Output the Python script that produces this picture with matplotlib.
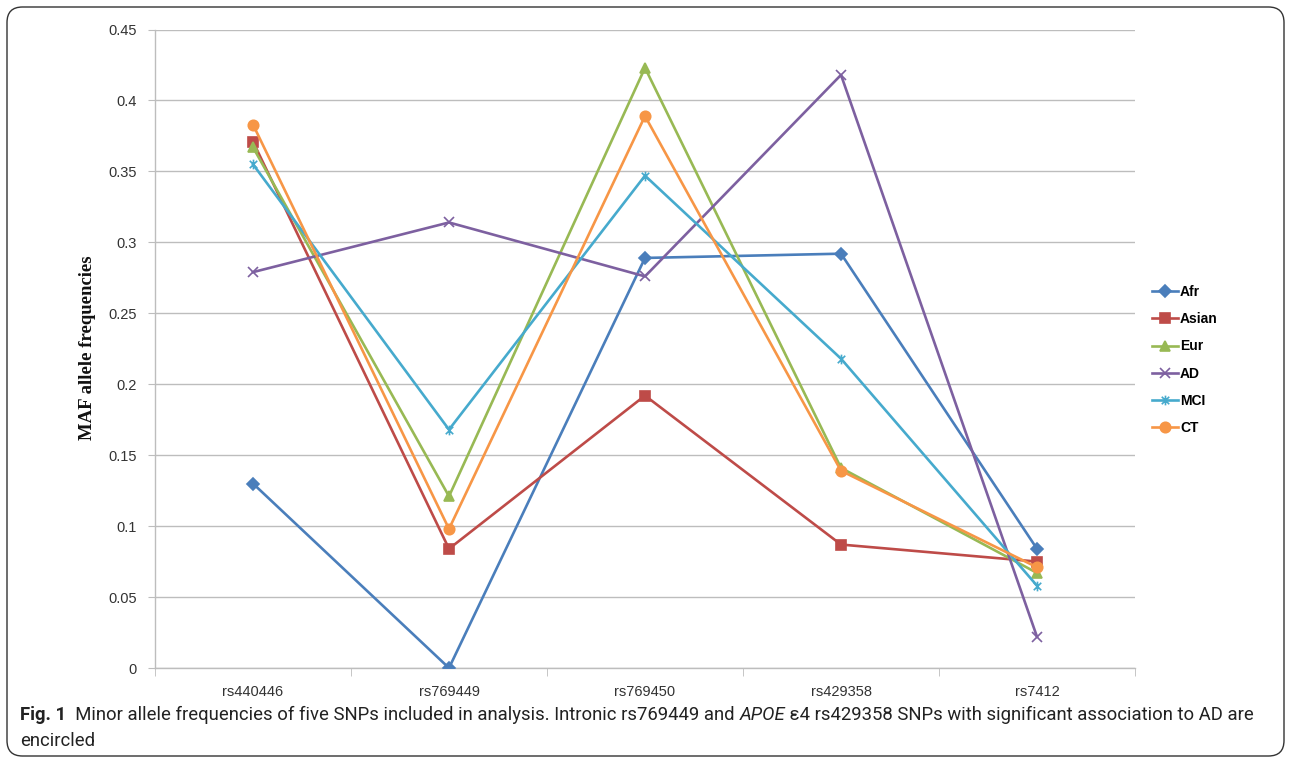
import matplotlib
matplotlib.use("Agg")
import matplotlib.pyplot as plt
from matplotlib.path import Path
from matplotlib.patches import FancyBboxPatch
import numpy as np

snps = ["rs440446", "rs769449", "rs769450", "rs429358", "rs7412"]
afr = [0.130, 0.000, 0.289, 0.292, 0.084]
asian = [0.371, 0.084, 0.192, 0.087, 0.075]
eur = [0.367, 0.121, 0.423, 0.141, 0.067]
ad = [0.279, 0.314, 0.276, 0.418, 0.022]
mci = [0.355, 0.168, 0.347, 0.218, 0.058]
ct = [0.383, 0.098, 0.389, 0.139, 0.071]
y_ticks = [0, 0.05, 0.1, 0.15, 0.2, 0.25, 0.3, 0.35, 0.4, 0.45]
y_tick_labels = ["0", "0.05", "0.1", "0.15", "0.2", "0.25", "0.3", "0.35", "0.4", "0.45"]

star = Path([(-1, -1), (1, 1), (-1, 1), (1, -1), (0, -1.3), (0, 1.3)],
            [Path.MOVETO, Path.LINETO, Path.MOVETO, Path.LINETO, Path.MOVETO, Path.LINETO])

series = [
    ("Afr", afr, "#4A7EBB", "D", 6.5),
    ("Asian", asian, "#BE4B48", "s", 7),
    ("Eur", eur, "#98B954", "^", 7.5),
    ("AD", ad, "#7D60A0", "x", 7),
    ("MCI", mci, "#46AACD", star, 7),
    ("CT", ct, "#F79646", "o", 7.5),
]

W, H = 1290, 763
fig = plt.figure(figsize=(W / 100, H / 100), dpi=100)
fig.patch.set_facecolor("white")

border = FancyBboxPatch((7 / W, 7 / H), (1277) / W, (749) / H,
                        boxstyle="round,pad=0,rounding_size=0.012",
                        transform=fig.transFigure, fill=False,
                        edgecolor="#333333", linewidth=1.0, mutation_aspect=W / H)
fig.patches.append(border)

tick_family = ["Liberation Sans", "DejaVu Sans"]

ax = fig.add_axes([155 / W, 1 - 668 / H, (1135 - 155) / W, (668 - 29.5) / H])
x = np.arange(len(snps))
for name, vals, col, mk, ms in series:
    ax.plot(x, vals, color=col, lw=1.9, marker=mk, markersize=ms,
            markeredgecolor=col, markerfacecolor=col, markeredgewidth=1.2,
            label=name, zorder=3)

ax.set_xlim(-0.5, len(snps) - 0.5)
ax.set_ylim(0, 0.45)
ax.set_yticks(y_ticks)
ax.set_yticklabels(y_tick_labels)
ax.yaxis.grid(True, color="#BDBDBD", lw=1.0)
ax.set_axisbelow(True)
ax.set_xticks(x)
ax.set_xticklabels(snps)
ax.set_xticks(np.arange(-0.5, len(snps), 1), minor=True)
ax.tick_params(axis="x", which="major", length=0, pad=12.5, labelsize=10.5, labelcolor="#333333")
ax.tick_params(axis="x", which="minor", length=6, color="#BDBDBD", direction="out")
ax.tick_params(axis="y", length=5, color="#BDBDBD", labelsize=10.5, labelcolor="#333333", pad=8)
for s in ["top", "right"]:
    ax.spines[s].set_visible(False)
for s in ["left", "bottom"]:
    ax.spines[s].set_color("#BDBDBD")
    ax.spines[s].set_linewidth(1.0)
for lab in ax.get_xticklabels() + ax.get_yticklabels():
    lab.set_family(tick_family)

fig.text(88 / W, 1 - 348 / H, "MAF allele frequencies", rotation=90, ha="center", va="center",
         family=["Liberation Serif", "DejaVu Serif"], fontweight="bold", fontsize=13.5, color="#111111")

leg = fig.legend(loc="center left", bbox_to_anchor=(1146 / W, 1 - 360 / H), frameon=False,
                 handlelength=1.9, handletextpad=0.15, labelspacing=0.95, borderaxespad=0,
                 prop={"family": ["Liberation Sans", "DejaVu Sans"], "weight": "bold", "size": 10})

# Caption with mixed styles, fitted to the reference line width
renderer = fig.canvas.get_renderer()
cap_family = ["Roboto", "DejaVu Sans"]
pieces = [("Fig. 1", "bold", "normal"),
          ("  Minor allele frequencies of five SNPs included in analysis. Intronic rs769449 and ", "normal", "normal"),
          ("APOE", "normal", "italic"),
          (" \u03b54 rs429358 SNPs with significant association to AD are", "normal", "normal")]
x0, x_end = 20, 1258
y1 = 1 - 715 / H


def draw_caption(fs):
    objs = []
    xpos = x0
    for txt, wt, st in pieces:
        t = fig.text(xpos / W, y1, txt, ha="left", va="center", family=cap_family,
                     fontweight=wt, fontstyle=st, fontsize=fs, color="#222222")
        bb = t.get_window_extent(renderer)
        xpos = bb.x1
        objs.append(t)
    return objs, xpos


fs = 14.0
objs, xe = draw_caption(fs)
for o in objs:
    o.remove()
fs = fs * (x_end - x0) / (xe - x0)
objs, xe = draw_caption(fs)
fig.text(x0 / W, 1 - 741 / H, "encircled", ha="left", va="center", family=cap_family,
         fontsize=fs, color="#222222")

fig.savefig("out.png", dpi=100)
